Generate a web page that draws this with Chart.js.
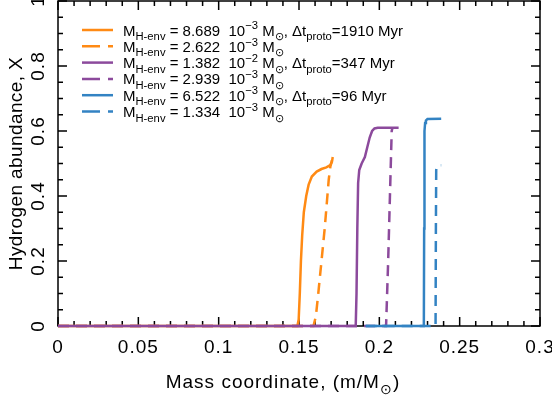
<!DOCTYPE html>
<html lang="en">
<head>
<meta charset="UTF-8">
<title>Hydrogen abundance profiles</title>
<script src="https://cdn.jsdelivr.net/npm/chart.js"></script>
<style>
    html, body { margin: 0; padding: 0; background: #fff; }
    #wrap { width: 552px; height: 400px; }
</style>
</head>
<body>
<div id="wrap"><canvas id="chart"></canvas></div>
<script>
// Mass coordinate (m/Msun) and hydrogen abundance X
const orangeSolidMass = [0, 0.149, 0.1498, 0.1505, 0.1512, 0.152, 0.153, 0.1545, 0.156, 0.158, 0.161, 0.164, 0.167, 0.1695, 0.1705, 0.171];
const orangeSolidX    = [0, 0, 0.02, 0.1, 0.2, 0.28, 0.35, 0.4, 0.435, 0.46, 0.475, 0.483, 0.488, 0.495, 0.505, 0.52];
const orangeDashMass  = [0, 0.159, 0.1605, 0.162, 0.164, 0.166, 0.1675, 0.1685, 0.1695, 0.1705];
const orangeDashX     = [0, 0, 0.03, 0.1, 0.2, 0.3, 0.39, 0.45, 0.49, 0.51];
const purpleSolidMass = [0, 0.1853, 0.1858, 0.1863, 0.1868, 0.1875, 0.189, 0.191, 0.1925, 0.194, 0.1955, 0.197, 0.199, 0.212];
const purpleSolidX    = [0, 0, 0.1, 0.3, 0.44, 0.48, 0.5, 0.52, 0.55, 0.58, 0.6, 0.608, 0.61, 0.61];
const purpleDashMass  = [0, 0.2042, 0.2055, 0.2066, 0.2077, 0.2082];
const purpleDashX     = [0, 0, 0.2, 0.4, 0.6, 0.61];
const blueSolidMass   = [0.1915, 0.2277, 0.2279, 0.2281, 0.2285, 0.229, 0.23, 0.2385];
const blueSolidX      = [0, 0, 0.3, 0.6, 0.625, 0.632, 0.637, 0.638];
const blueDashMass    = [0.1915, 0.235, 0.2352, 0.2354, 0.236, 0.237, 0.2385];
const blueDashX       = [0, 0, 0.3, 0.48, 0.493, 0.495, 0.495];

// legend text pieces
const envMass = ['8.689', '2.622', '1.382', '2.939', '6.522', '1.334'];
const envExp  = ['\u22123', '\u22123', '\u22122', '\u22123', '\u22123', '\u22123'];
const dtProto = ['1910', '', '347', '', '96', ''];

// axis ticks
const xTicks = [0, 0.05, 0.1, 0.15, 0.2, 0.25, 0.3];
const xTickLabels = ['0', '0.05', '0.1', '0.15', '0.2', '0.25', '0.3'];
const yTicks = [0, 0.2, 0.4, 0.6, 0.8, 1];
const yTickLabels = ['0', '0.2', '0.4', '0.6', '0.8', '1'];

const ORANGE = '#ff8a14';
const PURPLE = '#8c4a9c';
const BLUE = '#3383c3';
const FONT = '"Liberation Sans", Arial, sans-serif';

function pts(xs, ys) {
    return xs.map((x, i) => ({ x: x, y: ys[i] }));
}

function series(label, xs, ys, color, dashed, order) {
    return {
        label: label,
        data: pts(xs, ys),
        borderColor: color,
        backgroundColor: color,
        borderWidth: 2.5,
        borderDash: dashed ? [11, 7] : [],
        pointRadius: 0,
        tension: 0,
        clip: false,
        order: order
    };
}

// text with sub/superscripts: parts = [[text, 0 normal | 1 sub | 2 sup], ...]
function drawRich(ctx, x, y, parts, size, align, spacing) {
    const small = size * 0.75;
    ctx.letterSpacing = (spacing || 0) + 'px';
    const widths = parts.map(p => {
        ctx.font = (p[1] ? small : size) + 'px ' + FONT;
        return ctx.measureText(p[0]).width;
    });
    const total = widths.reduce((a, b) => a + b, 0);
    let cx = align === 'center' ? x - total / 2 : x;
    ctx.textAlign = 'left';
    ctx.textBaseline = 'alphabetic';
    parts.forEach((p, i) => {
        ctx.font = (p[1] ? small : size) + 'px ' + FONT;
        const dy = p[1] === 1 ? size * 0.3 : (p[1] === 2 ? -size * 0.42 : 0);
        ctx.fillText(p[0], cx, y + dy);
        cx += widths[i];
    });
    ctx.letterSpacing = '0px';
}

// box with inward ticks on all four sides, drawn under the curves
const frameTicks = {
    id: 'frameTicks',
    beforeDraw(chart) {
        chart.ctx.letterSpacing = '1px';
    },
    beforeDatasetsDraw(chart) {
        const { ctx, chartArea: a, scales: { x, y } } = chart;
        ctx.save();
        ctx.strokeStyle = '#000';
        ctx.lineWidth = 1.5;
        ctx.strokeRect(a.left, a.top, a.right - a.left, a.bottom - a.top);
        ctx.beginPath();
        for (let k = 0; k <= 30; k++) {
            const px = x.getPixelForValue(k * 0.01);
            const len = k % 5 === 0 ? 9 : 5;
            ctx.moveTo(px, a.bottom); ctx.lineTo(px, a.bottom - len);
            ctx.moveTo(px, a.top); ctx.lineTo(px, a.top + len);
        }
        for (let k = 0; k <= 20; k++) {
            const py = y.getPixelForValue(k * 0.05);
            const len = k % 4 === 0 ? 9 : 5;
            ctx.moveTo(a.left, py); ctx.lineTo(a.left + len, py);
            ctx.moveTo(a.right, py); ctx.lineTo(a.right - len, py);
        }
        ctx.stroke();
        ctx.restore();
    },
    afterDraw(chart) {
        const { ctx, chartArea: a } = chart;
        ctx.save();
        ctx.fillStyle = '#000';
        // axis titles
        drawRich(ctx, 283, 388, [['Mass coordinate, (m/M', 0], ['\u2299', 1], [')', 0]], 19, 'center', 1);
        ctx.save();
        ctx.translate(22, (a.top + a.bottom) / 2);
        ctx.rotate(-Math.PI / 2);
        drawRich(ctx, 0, 0, [['Hydrogen abundance, X', 0]], 19, 'center', 0.4);
        ctx.restore();
        // legend
        const colors = [ORANGE, ORANGE, PURPLE, PURPLE, BLUE, BLUE];
        for (let i = 0; i < envMass.length; i++) {
            const ly = 30 + i * 16.3;
            ctx.strokeStyle = colors[i];
            ctx.lineWidth = 2.5;
            ctx.setLineDash(i % 2 ? [18, 8] : []);
            ctx.beginPath();
            ctx.moveTo(82, ly); ctx.lineTo(113, ly);
            ctx.stroke();
            ctx.setLineDash([]);
            const parts = [['M', 0], ['H-env', 1], [' = ' + envMass[i] + '  10', 0], [envExp[i], 2], [' M', 0], ['\u2299', 1]];
            if (dtProto[i]) {
                parts.push([', \u0394t', 0], ['proto', 1], ['=' + dtProto[i] + ' Myr', 0]);
            }
            drawRich(ctx, 123, ly + 5.5, parts, 15, 'left', 0);
        }
        ctx.restore();
    }
};

new Chart(document.getElementById('chart'), {
    type: 'line',
    data: {
        datasets: [
            series('orange solid', orangeSolidMass, orangeSolidX, ORANGE, false, 2),
            series('orange dashed', orangeDashMass, orangeDashX, ORANGE, true, 2),
            series('purple solid', purpleSolidMass, purpleSolidX, PURPLE, false, 1),
            series('purple dashed', purpleDashMass, purpleDashX, PURPLE, true, 1),
            series('blue solid', blueSolidMass, blueSolidX, BLUE, false, 0),
            series('blue dashed', blueDashMass, blueDashX, BLUE, true, 0)
        ]
    },
    options: {
        responsive: true,
        maintainAspectRatio: false,
        animation: false,
        layout: { padding: { left: 0, right: 12, top: 1, bottom: 0 } },
        plugins: { legend: { display: false }, tooltip: { enabled: false } },
        scales: {
            x: {
                type: 'linear',
                min: 0,
                max: 0.3,
                grid: { display: false, drawTicks: false },
                border: { display: false },
                afterBuildTicks: s => { s.ticks = xTicks.map(v => ({ value: v })); },
                afterFit: s => { s.height = 74; s.paddingLeft = 0; s.paddingRight = 0; },
                ticks: {
                    color: '#000',
                    padding: 10,
                    maxRotation: 0,
                    font: { family: FONT, size: 19 },
                    callback: v => xTickLabels[xTicks.indexOf(v)]
                }
            },
            y: {
                min: 0,
                max: 1,
                grid: { display: false, drawTicks: false },
                border: { display: false },
                afterBuildTicks: s => { s.ticks = yTicks.map(v => ({ value: v })); },
                afterFit: s => { s.width = 58; s.paddingTop = 0; s.paddingBottom = 0; },
                ticks: {
                    color: '#000',
                    padding: 6,
                    minRotation: 90,
                    maxRotation: 90,
                    crossAlign: 'center',
                    font: { family: FONT, size: 19 },
                    callback: v => yTickLabels[yTicks.indexOf(v)]
                }
            }
        }
    },
    plugins: [frameTicks]
});
</script>
</body>
</html>
